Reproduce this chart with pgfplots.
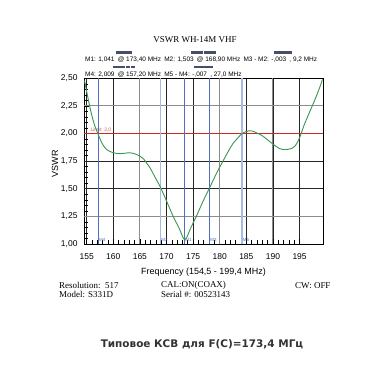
\documentclass[border=0pt]{standalone}
\usepackage{pgfplots}
\pgfplotsset{compat=1.18}
\usepackage{fontspec}
\setmainfont{Liberation Sans}
\newfontfamily\serifA{Liberation Serif}
\newfontfamily\capfont{DejaVu Sans}
\definecolor{curve}{RGB}{60,150,80}
\definecolor{mkdark}{RGB}{80,110,190}
\definecolor{mklight}{RGB}{165,188,228}
\definecolor{limred}{RGB}{205,40,30}
\definecolor{gridgray}{RGB}{140,140,140}
\definecolor{barcol}{RGB}{70,80,100}
\definecolor{capcol}{RGB}{50,50,50}
\pgfplotstableread{
x y
154.6 2.48
155.0 2.38
155.6 2.24
156.1 2.14
156.6 2.06
157.1 2.00
157.7 1.93
158.3 1.88
158.9 1.85
159.5 1.835
160.4 1.822
161.3 1.818
162.2 1.822
163.1 1.826
163.8 1.82
164.4 1.81
165.0 1.795
165.7 1.77
166.3 1.73
166.9 1.69
167.9 1.60
168.9 1.51
170.0 1.39
171.25 1.25
172.3 1.15
173.0 1.07
173.4 1.04
173.8 1.06
174.6 1.15
175.6 1.25
176.8 1.38
178.0 1.50
179.0 1.60
179.7 1.67
180.5 1.74
181.5 1.83
182.5 1.91
183.4 1.96
184.2 2.00
184.8 2.015
185.5 2.025
186.3 2.02
187.2 2.00
188.0 1.98
188.8 1.95
189.6 1.92
190.4 1.89
191.2 1.865
192.0 1.855
192.8 1.857
193.5 1.865
194.2 1.89
194.8 1.94
195.3 2.00
195.8 2.07
196.4 2.14
197.2 2.23
198.0 2.32
198.8 2.42
199.3 2.49
}\vswr
\begin{document}
\begin{tikzpicture}[x=1bp,y=1bp]
\useasboundingbox[fill=white] (0,0) rectangle (382,382);
\begin{axis}[
  at={(84bp,138bp)}, anchor=south west,
  scale only axis, width=239bp, height=165.7bp,
  xmin=154.5, xmax=199.4, ymin=1, ymax=2.5,
  xtick={155,160,...,195}, ytick={1,1.25,...,2.5},
  minor x tick num=4, minor y tick num=4,
  tick align=inside, major tick length=5bp, minor tick length=3.5bp,
  xtick pos=bottom, ytick pos=left,
  tick style={black, line width=0.6bp},
  xmajorgrids,
  major grid style={black!85, line width=0.8bp},
  extra y ticks={1.5,1.75},
  extra y tick labels={},
  extra tick style={grid=major, major tick length=0pt},
  axis line style={black, line width=0.8bp},
  /pgf/number format/assume math mode=true,
  ticklabel style={font=\fontsize{8.5}{9}\selectfont},
  yticklabel style={/pgf/number format/.cd, fixed, fixed zerofill, precision=2, use comma, /tikz/.cd, xshift=-3bp},
  xticklabel style={yshift=-6bp},
  xlabel={Frequency (154,5 - 199,4 MHz)},
  xlabel style={font=\fontsize{9}{10}\selectfont, at={(axis description cs:0.5,0)}, anchor=center, yshift=-28.3bp},
  ylabel={VSWR},
  ylabel style={font=\fontsize{9}{10}\selectfont, at={(axis description cs:-0.1213,0.485)}, anchor=center},
  clip=false,
]
\addplot[gridgray, line width=1bp] coordinates {(165,1) (165,2.5)};
\addplot[gridgray, line width=1bp] coordinates {(180,1) (180,2.5)};
\addplot[gridgray, line width=1bp] coordinates {(190,1) (190,2.5)};
\addplot[gridgray, line width=1bp] coordinates {(154.5,1.25) (199.4,1.25)};
\addplot[gridgray, line width=1bp] coordinates {(154.5,2.25) (199.4,2.25)};
% limit line at VSWR 2.0, drawn as a thin band
\addplot[fill=limred, draw=none] coordinates {(154.5,1.9935) (199.4,1.9935) (199.4,2.0065) (154.5,2.0065)} -- cycle;
\node[limred!80, font=\fontsize{5}{5}\selectfont, anchor=south west, inner sep=0.5bp] at (axis cs:155.6,2.01) {Limit: 2,0};
\addplot[mklight, line width=1.3bp] coordinates {(168.9,1) (168.9,2.5)};
\addplot[mklight, line width=1.3bp] coordinates {(184.2,1) (184.2,2.5)};
\addplot[mkdark, line width=0.7bp] coordinates {(157.2,1) (157.2,2.5)};
\addplot[mkdark, line width=0.7bp] coordinates {(173.4,1) (173.4,2.5)};
\addplot[mkdark, line width=0.7bp] coordinates {(178.1,1) (178.1,2.5)};
\foreach \m/\p in {M4/157.2,M2/168.9,M1/173.4,M3/178.1,M5/184.2}{
  \edef\tmp{\noexpand\node[mkdark, font=\noexpand\fontsize{4.5}{5}\noexpand\selectfont, anchor=south west, inner sep=0.5bp] at (axis cs:\p,1.02) {\m};}
  \tmp
}
\addplot[curve, line width=0.9bp, smooth] table[x=x,y=y] {\vswr};
\end{axis}
% title and marker readouts
\node[font=\serifA\fontsize{9}{10}\selectfont] at (195,342) {VSWR WH-14M VHF};
\node[font=\fontsize{6.5}{7}\selectfont, anchor=west, inner sep=0] at (85,322) {M1: 1,041\enspace @ 173,40 MHz\enspace M2: 1,503\enspace @ 168,90 MHz\enspace M3 - M2: -,003\enspace , 9,2 MHz};
\node[font=\fontsize{6.5}{7}\selectfont, anchor=west, inner sep=0] at (85,307) {M4: 2,009\enspace @ 157,20 MHz\enspace M5 - M4: -,007\enspace , 27,0 MHz};
\fill[barcol] (116,328) rectangle (131.7,330.5);
\fill[barcol] (191,328) rectangle (202.7,330.5);
\fill[barcol] (204,328) rectangle (215.7,330.5);
\fill[barcol] (274,328) rectangle (286.7,330.5);
\fill[barcol] (287.3,328) rectangle (292,330.5);
\fill[barcol] (113,313.5) rectangle (125,316);
\fill[barcol] (126,313.5) rectangle (130,316);
\fill[barcol] (131,313.5) rectangle (135,316);
\fill[barcol] (194,313.5) rectangle (198.5,316);
\fill[barcol] (199,313.5) rectangle (203.5,316);
\fill[barcol] (204,313.5) rectangle (208.5,316);
\fill[barcol] (209,313.5) rectangle (213,316);
% info lines
\node[font=\serifA\fontsize{9}{9}\selectfont, anchor=west, inner sep=0] at (59,96.3) {Resolution:\ \ 517};
\node[font=\serifA\fontsize{9}{9}\selectfont, anchor=west, inner sep=0] at (59,88) {Model: S331D};
\node[font=\serifA\fontsize{9}{9}\selectfont, anchor=west, inner sep=0] at (161,96.3) {CAL:ON(COAX)};
\node[font=\serifA\fontsize{9}{9}\selectfont, anchor=west, inner sep=0] at (161,88) {Serial \#: 00523143};
\node[font=\serifA\fontsize{9}{9}\selectfont, anchor=west, inner sep=0] at (295,96.3) {CW: OFF};
% caption
\node[font=\capfont\bfseries\fontsize{10.5}{12}\selectfont, text=capcol] at (202,38) {Типовое КСВ для F(C)=173,4 МГц};
\end{tikzpicture}
\end{document}
